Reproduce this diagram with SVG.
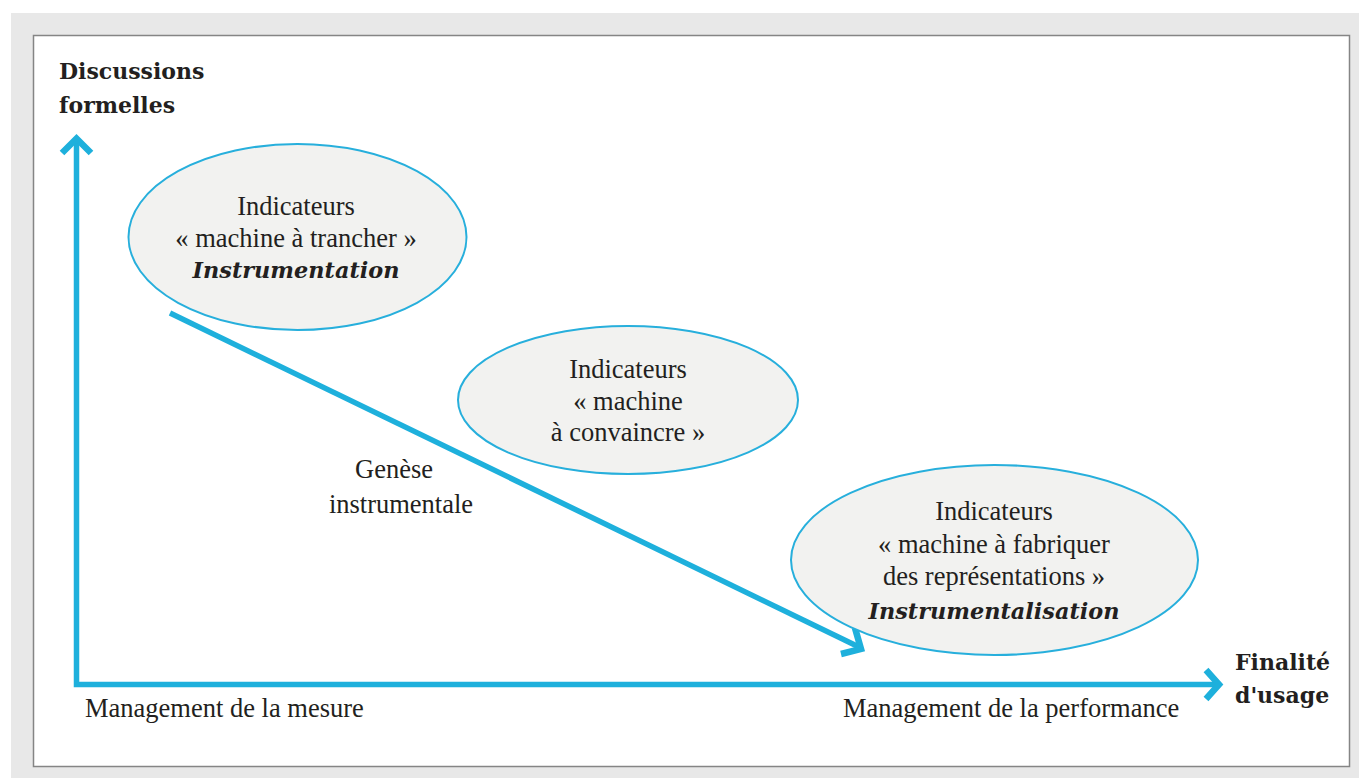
<svg xmlns="http://www.w3.org/2000/svg" width="1359" height="778" viewBox="0 0 1359 778">
<style>
.t{font-family:"Liberation Serif","Times New Roman",serif;font-size:26.5px;fill:#231f20}
.b{font-family:"DejaVu Serif",Georgia,serif;font-weight:bold;font-size:22px;fill:#231f20}
.bi{font-family:"DejaVu Serif",Georgia,serif;font-weight:bold;font-style:italic;font-size:22.4px;fill:#231f20}
.node ellipse{fill:#f2f2f0;stroke:#27afdc;stroke-width:2}
.ax{fill:none;stroke:#1eb0dc;stroke-width:5.5;stroke-linejoin:miter;stroke-linecap:butt}
.ah{fill:none;stroke:#1eb0dc;stroke-width:6.5;stroke-linejoin:miter;stroke-linecap:butt}
</style>
<rect x="11" y="13" width="1348" height="765" fill="#e8e8e8"/>
<rect x="33.5" y="35.5" width="1316" height="731" fill="#ffffff" stroke="#858585" stroke-width="1.5"/>
<g id="connectors">
<path class="ax" d="M76.5 140 V684.5 H1216"/>
<path class="ah" d="M62 153 L76.5 138.5 L91 153"/>
<path class="ah" d="M1206 670 L1219 684.5 L1206 699"/>
<path class="ax" d="M170 313 L859 647"/>
<path class="ah" d="M855 628 L861 649 L841 654"/>
</g>
<g id="axis-y-label">
<text class="b" x="59" y="79">Discussions</text>
<text class="b" x="59" y="113">formelles</text>
</g>
<g id="axis-x-label">
<text class="b" x="1235" y="670">Finalité</text>
<text class="b" x="1235" y="703">d'usage</text>
</g>
<g id="label-mesure"><text class="t" x="85" y="717">Management de la mesure</text></g>
<g id="label-performance"><text class="t" x="843" y="717">Management de la performance</text></g>
<g id="label-genese">
<text class="t" x="394" y="478" text-anchor="middle">Genèse</text>
<text class="t" x="401" y="513" text-anchor="middle">instrumentale</text>
</g>
<g id="node-instrumentation" class="node">
<ellipse cx="297.5" cy="237" rx="169" ry="93"/>
<text class="t" x="296" y="215" text-anchor="middle">Indicateurs</text>
<text class="t" x="296" y="247" text-anchor="middle">« machine à trancher »</text>
<text class="bi" x="296" y="278" text-anchor="middle">Instrumentation</text>
</g>
<g id="node-convaincre" class="node">
<ellipse cx="628" cy="400" rx="170" ry="74"/>
<text class="t" x="628" y="378" text-anchor="middle">Indicateurs</text>
<text class="t" x="628" y="410" text-anchor="middle">« machine</text>
<text class="t" x="628" y="441" text-anchor="middle">à convaincre »</text>
</g>
<g id="node-instrumentalisation" class="node">
<ellipse cx="994.5" cy="560" rx="203.5" ry="95"/>
<text class="t" x="994" y="520" text-anchor="middle">Indicateurs</text>
<text class="t" x="994" y="553" text-anchor="middle">« machine à fabriquer</text>
<text class="t" x="994" y="585" text-anchor="middle">des représentations »</text>
<text class="bi" x="994" y="619" text-anchor="middle">Instrumentalisation</text>
</g>
</svg>
